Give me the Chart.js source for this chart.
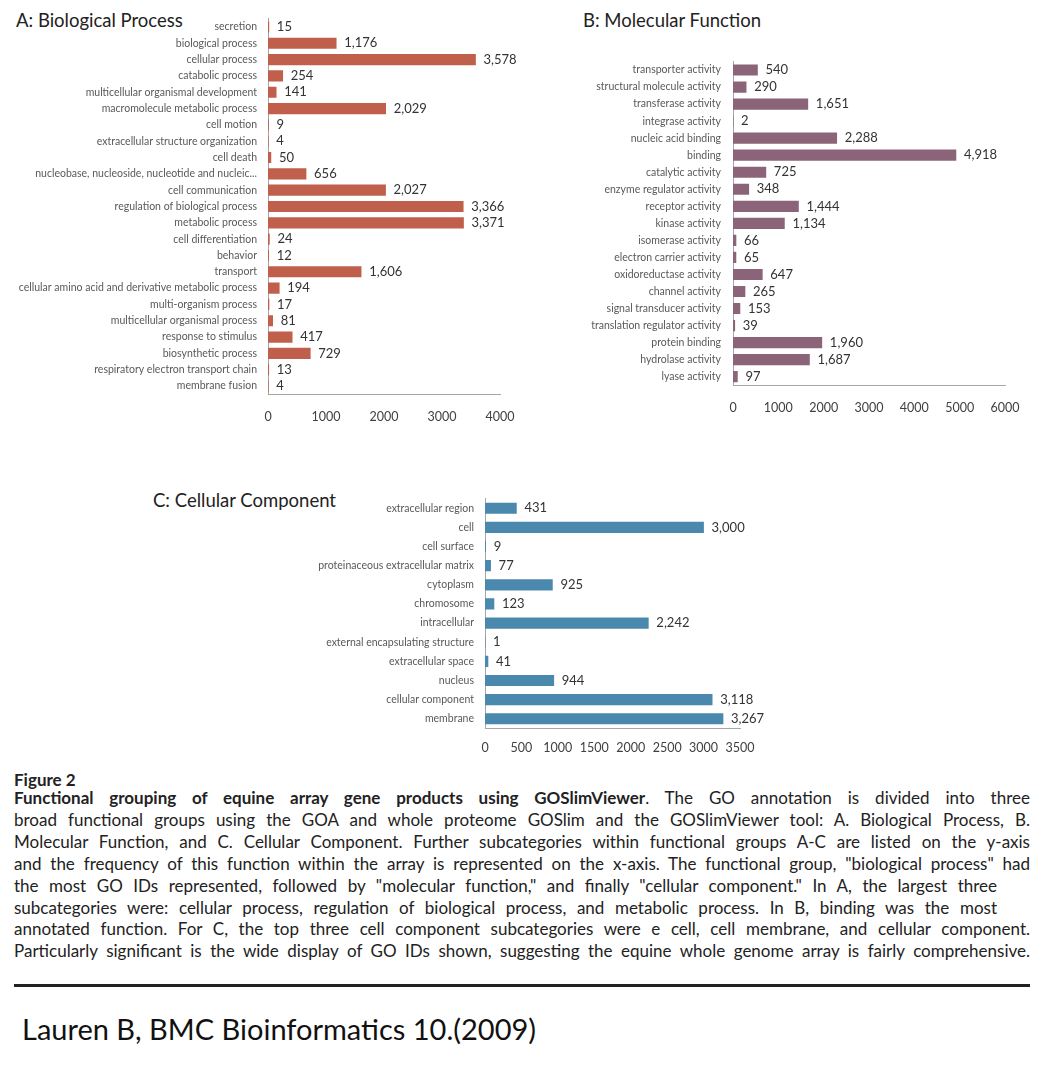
<!DOCTYPE html>
<html>
<head>
<meta charset="utf-8">
<script src="https://cdn.jsdelivr.net/npm/chart.js@4.4.1/dist/chart.umd.min.js"></script>
<style>
  body { margin: 0; background: #fff; width: 1051px; height: 1068px; position: relative; overflow: hidden;
         font-family: Lato, "Liberation Sans", sans-serif; color: #222; }
  canvas { position: absolute; }
  .ttl { position: absolute; font-size: 18.5px; line-height: 18px; white-space: nowrap; color: #222; }
  .cap { position: absolute; left: 14px; width: 1016px; font-size: 17px; line-height: 21.9px; color: #222; }
  .cap div { text-align: justify; text-align-last: justify; }
  .cap div.rag { width: 983px; }
</style>
</head>
<body>
<div class="ttl" style="left:16px; top:11px;">A: Biological Process</div>
<div class="ttl" style="left:583px; top:11px;">B: Molecular Function</div>
<div class="ttl" style="left:153px; top:491px;">C: Cellular Component</div>

<canvas id="bpChart" width="540" height="440" style="left:0px; top:0px;"></canvas>
<canvas id="mfChart" width="491" height="440" style="left:560px; top:0px;"></canvas>
<canvas id="ccChart" width="500" height="300" style="left:280px; top:470px;"></canvas>

<div style="position:absolute; left:14px; top:769px; font-size:17px; line-height:22px; font-weight:bold;">Figure 2</div>
<div class="cap" style="top:787px;">
  <div><b>Functional grouping of equine array gene products using GOSlimViewer</b>. The GO annotation is divided into three</div>
  <div>broad functional groups using the GOA and whole proteome GOSlim and the GOSlimViewer tool: A. Biological Process, B.</div>
  <div>Molecular Function, and C. Cellular Component. Further subcategories within functional groups A-C are listed on the y-axis</div>
  <div>and the frequency of this function within the array is represented on the x-axis. The functional group, "biological process" had</div>
  <div class="rag">the most GO IDs represented, followed by "molecular function," and finally "cellular component." In A, the largest three</div>
  <div class="rag">subcategories were: cellular process, regulation of biological process, and metabolic process. In B, binding was the most</div>
  <div>annotated function. For C, the top three cell component subcategories were e cell, cell membrane, and cellular component.</div>
  <div>Particularly significant is the wide display of GO IDs shown, suggesting the equine whole genome array is fairly comprehensive.</div>
</div>
<div style="position:absolute; left:14px; top:984px; width:1016px; height:3px; background:#222;"></div>
<div style="position:absolute; left:22px; top:1013px; font-size:29px; line-height:32px; color:#111;">Lauren B, BMC Bioinformatics 10.(2009)</div>

<script>
const FONT = "Lato, 'Liberation Sans', sans-serif";

const bpLabels = ["secretion", "biological process", "cellular process", "catabolic process",
  "multicellular organismal development", "macromolecule metabolic process", "cell motion",
  "extracellular structure organization", "cell death", "nucleobase, nucleoside, nucleotide and nucleic...",
  "cell communication", "regulation of biological process", "metabolic process", "cell differentiation",
  "behavior", "transport", "cellular amino acid and derivative metabolic process", "multi-organism process",
  "multicellular organismal process", "response to stimulus", "biosynthetic process",
  "respiratory electron transport chain", "membrane fusion"];
const bpValues = [15, 1176, 3578, 254, 141, 2029, 9, 4, 50, 656, 2027, 3366, 3371, 24, 12, 1606, 194, 17, 81, 417, 729, 13, 4];
const bpTicks = [0, 1000, 2000, 3000, 4000];

const mfLabels = ["transporter activity", "structural molecule activity", "transferase activity",
  "integrase activity", "nucleic acid binding", "binding", "catalytic activity", "enzyme regulator activity",
  "receptor activity", "kinase activity", "isomerase activity", "electron carrier activity",
  "oxidoreductase activity", "channel activity", "signal transducer activity", "translation regulator activity",
  "protein binding", "hydrolase activity", "lyase activity"];
const mfValues = [540, 290, 1651, 2, 2288, 4918, 725, 348, 1444, 1134, 66, 65, 647, 265, 153, 39, 1960, 1687, 97];
const mfTicks = [0, 1000, 2000, 3000, 4000, 5000, 6000];

const ccLabels = ["extracellular region", "cell", "cell surface", "proteinaceous extracellular matrix",
  "cytoplasm", "chromosome", "intracellular", "external encapsulating structure", "extracellular space",
  "nucleus", "cellular component", "membrane"];
const ccValues = [431, 3000, 9, 77, 925, 123, 2242, 1, 41, 944, 3118, 3267];
const ccTicks = [0, 500, 1000, 1500, 2000, 2500, 3000, 3500];

// numbers next to each bar
const valueLabels = {
  id: 'valueLabels',
  afterDatasetsDraw(chart) {
    const ctx = chart.ctx;
    const vals = chart.data.datasets[0].data;
    ctx.save();
    ctx.font = "13px " + FONT;
    ctx.fillStyle = '#333';
    ctx.textBaseline = 'middle';
    chart.getDatasetMeta(0).data.forEach((bar, i) => {
      ctx.fillText(vals[i].toLocaleString('en-US'), bar.x + 8, bar.y);
    });
    ctx.restore();
  }
};

function hbar(id, labels, values, ticks, color, g) {
  new Chart(id, {
    type: 'bar',
    data: {
      labels: labels,
      datasets: [{ data: values, backgroundColor: color, barThickness: 10.5 }]
    },
    options: {
      indexAxis: 'y',
      responsive: false,
      animation: false,
      layout: { padding: { left: 0, top: g.top, right: g.right, bottom: 0 } },
      plugins: { legend: { display: false }, tooltip: { enabled: false } },
      scales: {
        y: {
          grid: { display: false, drawTicks: false },
          border: { display: true, color: '#a6a6a6' },
          ticks: { autoSkip: false, padding: g.yPad, color: '#595959', font: { family: FONT, size: 10.5 } },
          afterFit: s => { s.width = g.left; }
        },
        x: {
          min: ticks[0],
          max: ticks[ticks.length - 1],
          grid: { display: false, drawTicks: false },
          border: { display: true, color: '#a6a6a6' },
          ticks: {
            padding: g.xPad, color: '#404040', font: { family: FONT, size: 12.5 },
            autoSkip: false, maxRotation: 0, minRotation: 0,
            callback: v => String(v)
          },
          afterBuildTicks: s => { s.ticks = ticks.map(v => ({ value: v })); },
          afterFit: s => { s.height = g.axisH; }
        }
      }
    },
    plugins: [valueLabels]
  });
}

hbar('bpChart', bpLabels, bpValues, bpTicks, '#c0604c',
  { left: 268, right: 40, top: 18.8, axisH: 45.8, yPad: 11, xPad: 15.6 });
hbar('mfChart', mfLabels, mfValues, mfTicks, '#8b6479',
  { left: 173, right: 46, top: 61.5, axisH: 54.8, yPad: 12, xPad: 15.6 });
hbar('ccChart', ccLabels, ccValues, ccTicks, '#4a89ad',
  { left: 205, right: 40, top: 28.7, axisH: 41.7, yPad: 11, xPad: 12.5 });
</script>
</body>
</html>
